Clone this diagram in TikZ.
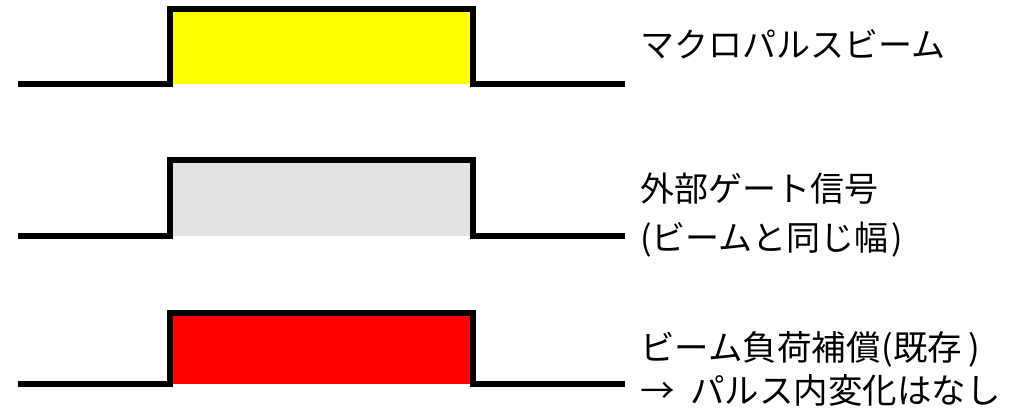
\documentclass[tikz,border=0pt]{standalone}
\usepackage{fontspec}
\newfontfamily\jp{Noto Sans CJK JP}
\definecolor{beamyellow}{RGB}{255,255,0}
\definecolor{gategray}{RGB}{227,227,227}
\definecolor{comped}{RGB}{255,0,0}
\begin{document}
\begin{tikzpicture}[x=1pt,y=-1pt,
  pulse/.style={line width=6pt,line join=miter,line cap=butt},
  lbl/.style={anchor=west,inner sep=0pt,align=left}]
\useasboundingbox (0,0) rectangle (1035,408);
% pulse 1
\fill[beamyellow] (170,9) rectangle (473,83.5);
\coordinate (a1) at (18,83.5); \coordinate (b1) at (170,83.5);
\coordinate (c1) at (170,9); \coordinate (d1) at (473,9);
\coordinate (e1) at (473,83.5); \coordinate (f1) at (625,83.5);
\draw[pulse] (a1) -- (b1) -- (c1) -- (d1) -- (e1) -- (f1);
% pulse 2
\fill[gategray] (170,160) rectangle (473,236);
\coordinate (a2) at (18,236); \coordinate (b2) at (170,236);
\coordinate (c2) at (170,160); \coordinate (d2) at (473,160);
\coordinate (e2) at (473,236); \coordinate (f2) at (625,236);
\draw[pulse] (a2) -- (b2) -- (c2) -- (d2) -- (e2) -- (f2);
% pulse 3
\fill[comped] (170,313) rectangle (473,384);
\coordinate (a3) at (18,384); \coordinate (b3) at (170,384);
\coordinate (c3) at (170,313); \coordinate (d3) at (473,313);
\coordinate (e3) at (473,384); \coordinate (f3) at (625,384);
\draw[pulse] (a3) -- (b3) -- (c3) -- (d3) -- (e3) -- (f3);
% labels
\node[lbl,font=\jp\fontsize{34}{49}\selectfont] (t1) at (640,44) {マクロパルスビーム};
\node[lbl,font=\jp\fontsize{34}{49}\selectfont] (t2) at (640,215.5) {外部ゲート信号\\(ビームと同じ幅\kern3pt)};
\node[lbl,font=\jp\fontsize{34.5}{43}\selectfont] (t3) at (640,368.5) {ビーム負荷補償\kern1pt(既存\kern6pt)\\→ \kern8pt パルス内変化はなし};
\end{tikzpicture}
\end{document}
